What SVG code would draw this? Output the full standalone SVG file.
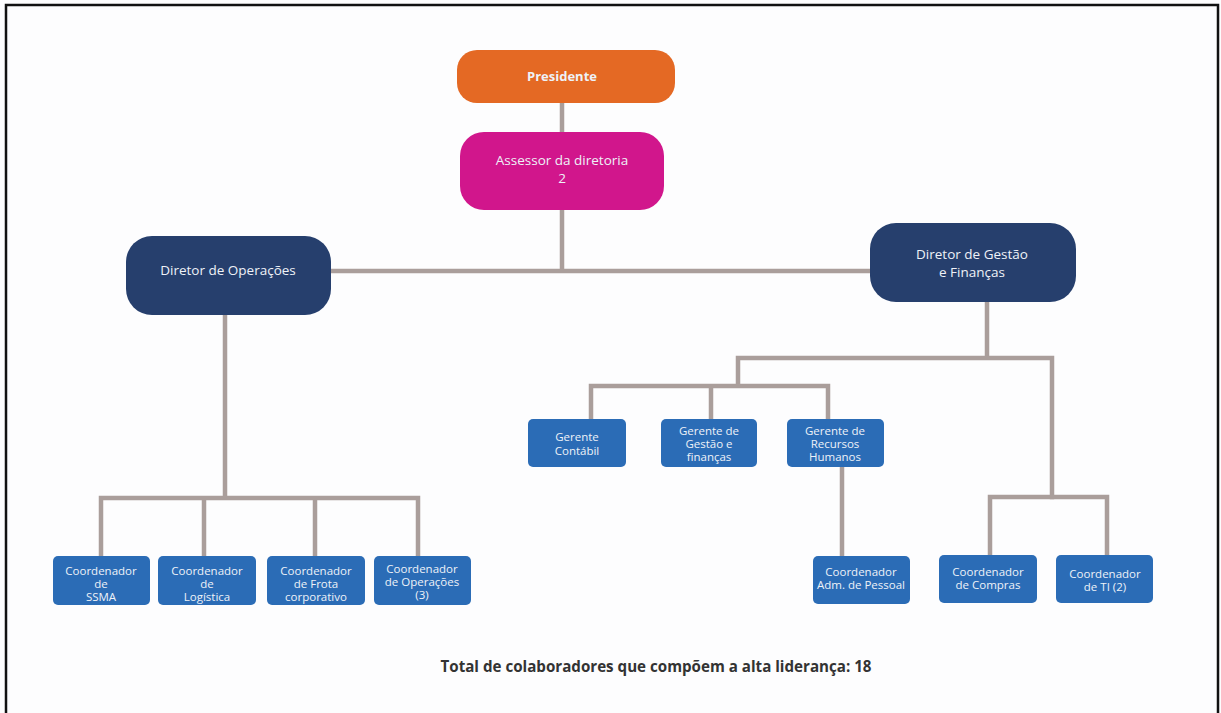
<svg xmlns="http://www.w3.org/2000/svg" width="1221" height="713" viewBox="0 0 1221 713">
<style>
.t{font-family:"Open Sans","Liberation Sans",sans-serif;fill:#eef2f8;text-anchor:middle}
.s{font-size:11.5px}
.m{font-size:13.5px}
.c{fill:none;stroke:#aa9e9b;stroke-width:4.5;stroke-linecap:square;stroke-linejoin:miter}
.blue{fill:#2b6cb6}
.navy{fill:#263f6d}
</style>
<rect x="0" y="0" width="1221" height="713" fill="#fdfdfe"/>
<path d="M6 713V5H1218V713" fill="none" stroke="#111" stroke-width="2.5"/>
<g id="connectors">
<path class="c" d="M562 103V132M562 210V271M333 271H870"/>
<path class="c" d="M225 315V498M101 556V498H418V556M204 498V556M315 498V556"/>
<path class="c" d="M987 302V358M738 358H1052V497M738 358V386M591 419V386H828V419M711 386V419"/>
<path class="c" d="M842 467V556M990 555V497H1107V555"/>
</g>
<g id="presidente">
<rect x="457" y="50" width="218" height="53" rx="20" fill="#e46924"/>
<text class="t" x="562" y="81" style="font-size:13px;font-weight:bold">Presidente</text>
</g>
<g id="assessor">
<rect x="460" y="132" width="204" height="78" rx="24" fill="#d1168c"/>
<text class="t m" x="562" y="165">Assessor da diretoria</text>
<text class="t m" x="562" y="183">2</text>
</g>
<g id="diretor-operacoes">
<rect x="126" y="236" width="205" height="79" rx="26" class="navy"/>
<text class="t m" x="228" y="275">Diretor de Operações</text>
</g>
<g id="diretor-gestao">
<rect x="870" y="223" width="206" height="79" rx="26" class="navy"/>
<text class="t m" x="972" y="259">Diretor de Gestão</text>
<text class="t m" x="972" y="277">e Finanças</text>
</g>
<g id="gerente-contabil">
<rect x="528" y="419" width="98" height="48" rx="5" class="blue"/>
<text class="t s" x="577" y="441">Gerente</text>
<text class="t s" x="577" y="455">Contábil</text>
</g>
<g id="gerente-gestao">
<rect x="661" y="419" width="96" height="48" rx="5" class="blue"/>
<text class="t s" x="709" y="435">Gerente de</text>
<text class="t s" x="709" y="448">Gestão e</text>
<text class="t s" x="709" y="461">finanças</text>
</g>
<g id="gerente-rh">
<rect x="787" y="419" width="97" height="48" rx="5" class="blue"/>
<text class="t s" x="835" y="435">Gerente de</text>
<text class="t s" x="835" y="448">Recursos</text>
<text class="t s" x="835" y="461">Humanos</text>
</g>
<g id="coord-ssma">
<rect x="53" y="556" width="97" height="49" rx="5" class="blue"/>
<text class="t s" x="101" y="575">Coordenador</text>
<text class="t s" x="101" y="588">de</text>
<text class="t s" x="101" y="601">SSMA</text>
</g>
<g id="coord-logistica">
<rect x="158" y="556" width="98" height="49" rx="5" class="blue"/>
<text class="t s" x="207" y="575">Coordenador</text>
<text class="t s" x="207" y="588">de</text>
<text class="t s" x="207" y="601">Logística</text>
</g>
<g id="coord-frota">
<rect x="267" y="556" width="98" height="49" rx="5" class="blue"/>
<text class="t s" x="316" y="575">Coordenador</text>
<text class="t s" x="316" y="588">de Frota</text>
<text class="t s" x="316" y="601">corporativo</text>
</g>
<g id="coord-operacoes">
<rect x="374" y="556" width="97" height="49" rx="5" class="blue"/>
<text class="t s" x="422" y="573">Coordenador</text>
<text class="t s" x="422" y="586">de Operações</text>
<text class="t s" x="422" y="599">(3)</text>
</g>
<g id="coord-adm-pessoal">
<rect x="813" y="556" width="97" height="48" rx="5" class="blue"/>
<text class="t s" x="861" y="576">Coordenador</text>
<text class="t s" x="861" y="589">Adm. de Pessoal</text>
</g>
<g id="coord-compras">
<rect x="939" y="555" width="98" height="48" rx="5" class="blue"/>
<text class="t s" x="988" y="576">Coordenador</text>
<text class="t s" x="988" y="589">de Compras</text>
</g>
<g id="coord-ti">
<rect x="1056" y="555" width="97" height="48" rx="5" class="blue"/>
<text class="t s" x="1105" y="578">Coordenador</text>
<text class="t s" x="1105" y="591">de TI (2)</text>
</g>
<text x="656" y="672" textLength="431" lengthAdjust="spacingAndGlyphs" style="font-family:'Open Sans','Liberation Sans',sans-serif;font-weight:bold;font-size:16px;fill:#333;text-anchor:middle">Total de colaboradores que compõem a alta liderança: 18</text>
</svg>
